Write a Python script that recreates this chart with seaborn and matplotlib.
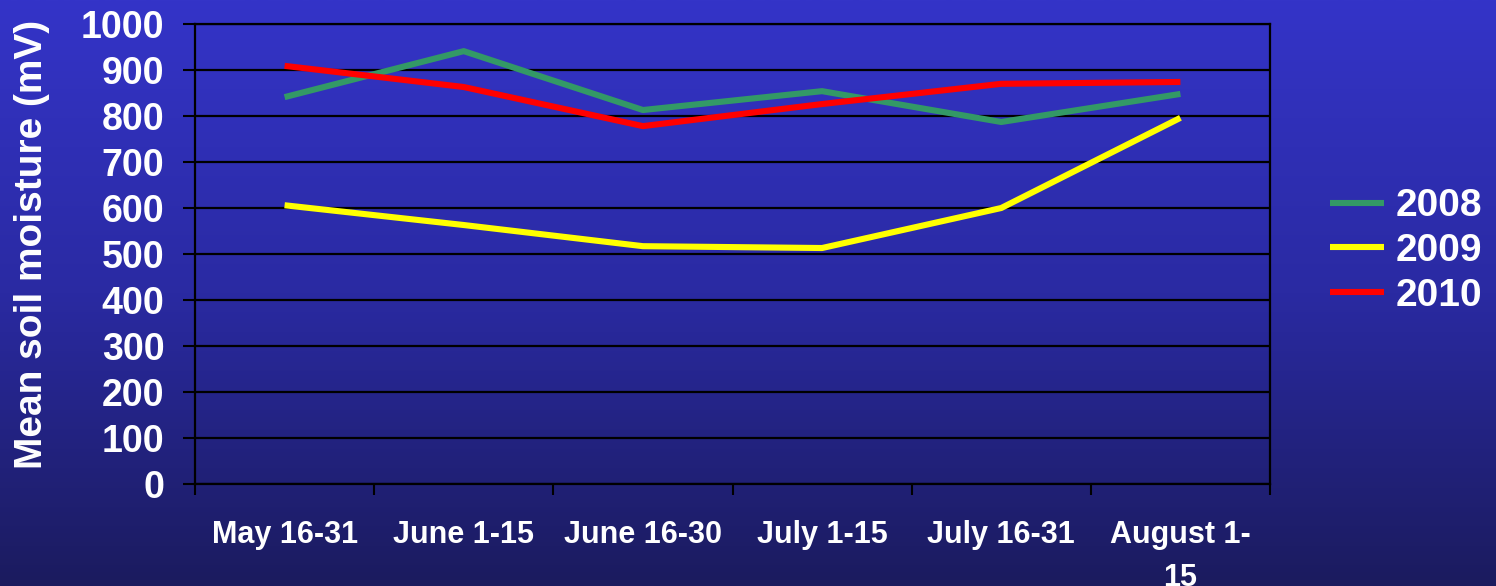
import numpy as np
import pandas as pd
import matplotlib
matplotlib.use("Agg")
import matplotlib.pyplot as plt
from matplotlib.colors import LinearSegmentedColormap
import seaborn as sns

periods = ["May 16-31", "June 1-15", "June 16-30", "July 1-15", "July 16-31", "August 1-\n15"]
moisture_2008 = [841, 941, 813, 854, 787, 848]
moisture_2009 = [606, 563, 517, 513, 600, 796]
moisture_2010 = [909, 863, 778, 826, 870, 874]
years = ["2008", "2009", "2010"]
year_colors = ["#339966", "#FFFF00", "#FF0000"]
y_ticks = list(range(0, 1001, 100))

df = pd.DataFrame({
    "period": periods * 3,
    "pos": list(range(len(periods))) * 3,
    "moisture": moisture_2008 + moisture_2009 + moisture_2010,
    "year": [y for y in years for _ in periods],
})

sns.set_theme(style="white")
plt.rcParams["font.family"] = ["Liberation Sans", "DejaVu Sans"]
plt.rcParams["font.weight"] = "bold"
plt.rcParams["lines.solid_capstyle"] = "butt"

fig = plt.figure(figsize=(14.96, 5.86), dpi=100)

# vertical blue gradient behind everything
bg = fig.add_axes([0, 0, 1, 1], zorder=-10)
grad = LinearSegmentedColormap.from_list("bg", ["#1B1B5E", "#2A2AA2", "#3434C8"])
bg.imshow(np.linspace(0, 1, 256).reshape(-1, 1), aspect="auto", cmap=grad,
          origin="lower", extent=[0, 1, 0, 1])
bg.set_axis_off()

ax = fig.add_axes([195 / 1496, 1 - 484 / 586, (1270 - 195) / 1496, (484 - 24) / 586])
ax.patch.set_alpha(0)

sns.lineplot(data=df, x="pos", y="moisture", hue="year", hue_order=years,
             palette=year_colors, linewidth=4.4, ax=ax, legend=True, zorder=3)

ax.set_xlim(-0.5, len(periods) - 0.5)
ax.set_ylim(0, 1000)

# category boundaries carry the tick marks, centers carry the labels
ax.set_xticks(np.arange(-0.5, len(periods), 1.0))
ax.set_xticklabels([])
ax.set_xticks(range(len(periods)), minor=True)
ax.set_xticklabels(periods, minor=True, color="white", fontsize=22, fontweight="bold",
                   linespacing=1.55)
ax.tick_params(axis="x", which="major", direction="out", length=8, width=1.5,
               color="black", bottom=True)
ax.tick_params(axis="x", which="minor", length=0, pad=26)

ax.set_yticks(y_ticks)
ax.set_yticklabels([str(v) for v in y_ticks], color="white", fontsize=27, fontweight="bold")
ax.tick_params(axis="y", direction="out", length=9, width=1.5, color="black",
               left=True, pad=13)

ax.yaxis.grid(True, color="black", linewidth=1.6)
ax.set_axisbelow(True)
for side in ["left", "bottom", "right", "top"]:
    ax.spines[side].set_visible(True)
    ax.spines[side].set_color("black")
    ax.spines[side].set_linewidth(1.6)

ax.set_xlabel("")
ax.set_ylabel("")
fig.text(32 / 1496, 1 - 244 / 586, "Mean soil moisture (mV)", rotation=90,
         ha="center", va="center", color="white", fontsize=28, fontweight="bold")

handles, labels = ax.get_legend_handles_labels()
leg = fig.legend(handles, labels, loc="center left",
                 bbox_to_anchor=(1330 / 1496, 1 - 251 / 586), frameon=False,
                 handlelength=1.4, handletextpad=0.3, labelspacing=0.22,
                 borderpad=0, borderaxespad=0,
                 prop={"weight": "bold", "size": 28})
for txt in leg.get_texts():
    txt.set_color("white")
for line in leg.get_lines():
    line.set_linewidth(4.4)
    line.set_solid_capstyle("butt")
ax.get_legend().remove()

fig.savefig("out.png", dpi=100)
